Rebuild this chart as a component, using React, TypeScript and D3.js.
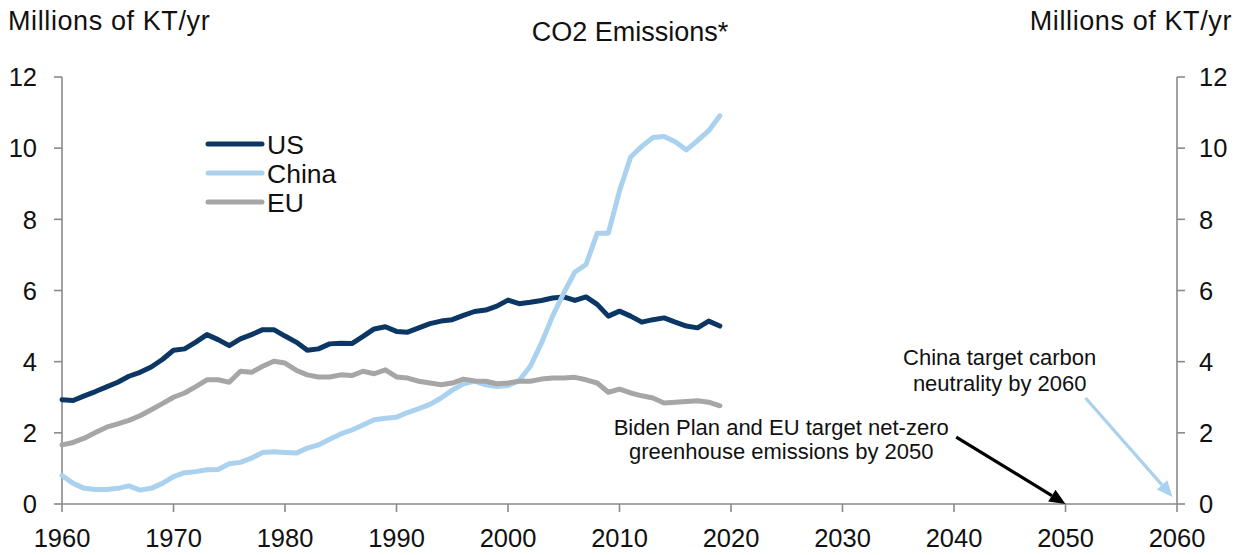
import React from "react";
import * as d3 from "d3";

// Annual CO2 emissions, millions of kilotonnes per year
const years: number[] = d3.range(1960, 2020);

const usValues: number[] = [
  2.93, 2.91, 3.04, 3.16, 3.29, 3.42, 3.59, 3.7, 3.85, 4.06,
  4.32, 4.36, 4.55, 4.76, 4.62, 4.45, 4.64, 4.76, 4.9, 4.9,
  4.72, 4.55, 4.32, 4.36, 4.5, 4.52, 4.51, 4.71, 4.92, 4.98,
  4.85, 4.83, 4.95, 5.07, 5.14, 5.18, 5.3, 5.41, 5.45, 5.56,
  5.73, 5.63, 5.67, 5.72, 5.79, 5.82, 5.72, 5.82, 5.61, 5.28,
  5.42, 5.28, 5.11, 5.18, 5.23, 5.11, 5.0, 4.95, 5.14, 5.0,
];

const chinaValues: number[] = [
  0.8, 0.58, 0.44, 0.41, 0.41, 0.44, 0.51, 0.39, 0.44, 0.58,
  0.77, 0.88, 0.91, 0.96, 0.97, 1.13, 1.17, 1.29, 1.45, 1.47,
  1.45, 1.43, 1.57, 1.66, 1.82, 1.97, 2.08, 2.22, 2.37, 2.41,
  2.44, 2.57, 2.68, 2.8, 2.98, 3.2, 3.38, 3.45, 3.35, 3.3,
  3.33, 3.47, 3.87, 4.52, 5.28, 5.93, 6.52, 6.73, 7.61, 7.61,
  8.8, 9.75, 10.05, 10.3, 10.33, 10.18, 9.95, 10.21, 10.49, 10.91,
];

const euValues: number[] = [
  1.66, 1.73, 1.85, 2.01, 2.16, 2.25, 2.35, 2.48, 2.65, 2.82,
  3.0, 3.12, 3.3, 3.49, 3.49, 3.42, 3.73, 3.7, 3.87, 4.01,
  3.96, 3.76, 3.63, 3.57, 3.57, 3.63, 3.61, 3.73, 3.66, 3.77,
  3.57, 3.54, 3.45, 3.4, 3.35, 3.4, 3.51, 3.46, 3.45, 3.38,
  3.4, 3.45, 3.45, 3.51, 3.54, 3.54, 3.56, 3.49, 3.4, 3.14,
  3.23, 3.12, 3.04, 2.98, 2.84, 2.86, 2.88, 2.9, 2.86, 2.76,
];

const seriesNames: string[] = ["US", "China", "EU"];
const seriesColors: string[] = ["#0c3764", "#aad1ee", "#a6a6a6"];

const xTicks: number[] = [1960, 1970, 1980, 1990, 2000, 2010, 2020, 2030, 2040, 2050, 2060];
const yTicks: number[] = [0, 2, 4, 6, 8, 10, 12];

// Target annotations: label lines, label anchor (year, value), arrow start and tip (year, value)
const bidenLines: string[] = ["Biden Plan and EU target net-zero", "greenhouse emissions by 2050"];
const bidenLabel: [number, number] = [2024.5, 2.17];
const bidenArrow: [number, number][] = [[2040.2, 1.88], [2050, 0]];

const chinaLines: string[] = ["China target carbon", "neutrality by 2060"];
const chinaLabel: [number, number] = [2044.1, 4.14];
const chinaArrow: [number, number][] = [[2051.8, 2.98], [2059.6, 0.2]];

const W = 1241;
const H = 555;
const FONT = "'Liberation Sans', Arial, Helvetica, sans-serif";
const AXIS_COLOR = "#8a8a8a";
const TEXT_COLOR = "#111";

function Arrow({ pts, color, x, y }: { pts: [number, number][]; color: string; x: d3.ScaleLinear<number, number>; y: d3.ScaleLinear<number, number> }) {
  const [x0, y0] = [x(pts[0][0]), y(pts[0][1])];
  const [x1, y1] = [x(pts[1][0]), y(pts[1][1])];
  const ang = Math.atan2(y1 - y0, x1 - x0);
  const len = 16;
  const half = 7;
  const bx = x1 - len * Math.cos(ang);
  const by = y1 - len * Math.sin(ang);
  const px = -Math.sin(ang) * half;
  const py = Math.cos(ang) * half;
  return (
    <g>
      <line x1={x0} y1={y0} x2={bx} y2={by} stroke={color} strokeWidth={3.2} />
      <path d={`M${x1},${y1}L${bx + px},${by + py}L${bx - px},${by - py}Z`} fill={color} />
    </g>
  );
}

export default function App() {
  const x = d3.scaleLinear().domain([1960, 2060]).range([62, 1177]);
  const y = d3.scaleLinear().domain([0, 12]).range([504, 77]);

  const data = [usValues, chinaValues, euValues];
  const line = d3
    .line<number>()
    .x((_, i) => x(years[i]))
    .y((v) => y(v));

  const [xL, xR] = x.range();
  const [yB, yT] = y.range();

  return (
    <svg
      width={W}
      height={H}
      viewBox={`0 0 ${W} ${H}`}
      style={{ position: "absolute", left: 0, top: 0, background: "#fff", fontFamily: FONT }}
    >
      {/* titles */}
      <text x={8} y={30} fontSize={27} fill={TEXT_COLOR} letterSpacing={0.6}>
        Millions of KT/yr
      </text>
      <text x={1232} y={30} fontSize={27} fill={TEXT_COLOR} textAnchor="end" letterSpacing={0.6}>
        Millions of KT/yr
      </text>
      <text x={630} y={41} fontSize={27} fill={TEXT_COLOR} textAnchor="middle">
        CO2 Emissions*
      </text>

      {/* axes */}
      <g stroke={AXIS_COLOR} strokeWidth={1.6} fill="none">
        <line x1={xL} y1={yT} x2={xL} y2={yB} />
        <line x1={xR} y1={yT} x2={xR} y2={yB} />
        <line x1={xL} y1={yB} x2={xR} y2={yB} />
        {yTicks.map((t) => (
          <g key={`yt${t}`}>
            <line x1={xL - 8} y1={y(t)} x2={xL} y2={y(t)} />
            <line x1={xR} y1={y(t)} x2={xR + 8} y2={y(t)} />
          </g>
        ))}
        {xTicks.map((t) => (
          <line key={`xt${t}`} x1={x(t)} y1={yB} x2={x(t)} y2={yB + 8} />
        ))}
      </g>

      {/* tick labels */}
      <g fontSize={25.5} fill={TEXT_COLOR}>
        {yTicks.map((t) => (
          <g key={`yl${t}`}>
            <text x={37} y={y(t)} dy="0.36em" textAnchor="end">
              {t}
            </text>
            <text x={1199} y={y(t)} dy="0.36em" textAnchor="start">
              {t}
            </text>
          </g>
        ))}
        {xTicks.map((t) => (
          <text key={`xl${t}`} x={x(t)} y={yB + 43} textAnchor="middle">
            {t}
          </text>
        ))}
      </g>

      {/* series lines */}
      {data.map((vals, i) => (
        <path
          key={seriesNames[i]}
          d={line(vals) || ""}
          fill="none"
          stroke={seriesColors[i]}
          strokeWidth={5}
          strokeLinejoin="round"
          strokeLinecap="round"
        />
      ))}

      {/* legend */}
      <g>
        {seriesNames.map((name, i) => {
          const ly = 144 + i * 29;
          return (
            <g key={`lg${name}`}>
              <line x1={208} y1={ly} x2={262} y2={ly} stroke={seriesColors[i]} strokeWidth={5} strokeLinecap="round" />
              <text x={267} y={ly + 9.5} fontSize={26.5} fill={TEXT_COLOR}>
                {name}
              </text>
            </g>
          );
        })}
      </g>

      {/* annotations */}
      <g fontSize={22} fill={TEXT_COLOR} textAnchor="middle">
        {bidenLines.map((s, i) => (
          <text key={`b${i}`} x={x(bidenLabel[0])} y={y(bidenLabel[1]) + 8 + i * 24}>
            {s}
          </text>
        ))}
        {chinaLines.map((s, i) => (
          <text key={`c${i}`} x={x(chinaLabel[0])} y={y(chinaLabel[1]) + 8 + i * 26}>
            {s}
          </text>
        ))}
      </g>
      <Arrow pts={bidenArrow} color="#000" x={x} y={y} />
      <Arrow pts={chinaArrow} color={seriesColors[1]} x={x} y={y} />
    </svg>
  );
}
